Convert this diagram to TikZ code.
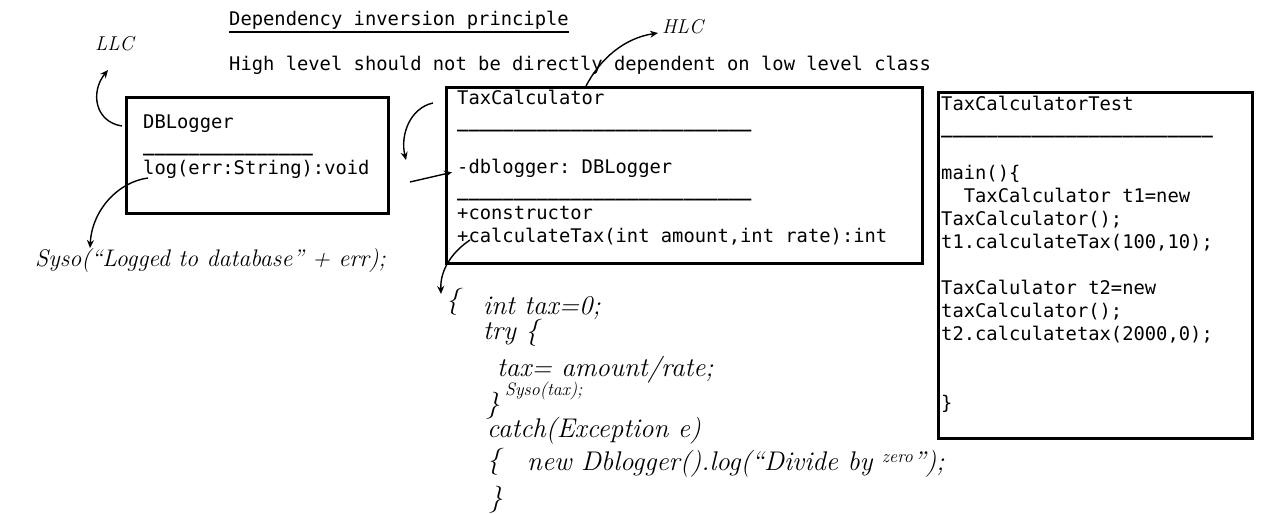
\documentclass[tikz,border=0pt]{standalone}
\usepackage{fontspec}
\setmonofont{DejaVu Sans Mono}
\usetikzlibrary{arrows.meta}
\ExplSyntaxOn
\NewDocumentCommand\sepline{m}{{\bfseries\prg_replicate:nn{#1}{\textunderscore}}}
\ExplSyntaxOff
\begin{document}
\begin{tikzpicture}[x=1pt,y=-1pt,
  umlbox/.style={draw, line width=2.6pt, inner sep=0pt, anchor=north west},
  % multi-line texts are placed by the baseline of their last line
  typed/.style={font=\ttfamily\fontsize{18.8}{23}\selectfont, inner sep=0pt, anchor=base west, align=left},
  hand/.style={font=\itshape\fontsize{24}{28}\selectfont, inner sep=0pt, anchor=base west},
  code/.style={hand, font=\itshape\fontsize{27}{30}\selectfont},
  pen/.style={line width=1.4pt, -{Stealth[length=8pt,width=7pt]}}]
\useasboundingbox (0,0) rectangle (1280,514);

% headings
\node[typed] (title) at (229,25) {Dependency inversion principle};
\draw[line width=1.5pt] ([yshift=-7pt]title.base west) -- ([yshift=-7pt]title.base east);
\node[typed] (rule) at (229,70) {High level should not be directly dependent on low level class};

% class boxes
\node[umlbox, minimum width=262pt, minimum height=116pt] (dbl) at (125,96) {};
\node[typed] (dbltxt) at (143,174) {DBLogger\\\sepline{15}\\log(err:String):void};

\node[umlbox, minimum width=476pt, minimum height=176pt] (tc) at (445,86) {};
\node[typed] (tctxt) at (457,242) {TaxCalculator\\\sepline{26}\\\strut\\-dblogger: DBLogger\\\sepline{26}\\+constructor\\+calculateTax(int amount,int rate):int};

\node[umlbox, minimum width=314pt, minimum height=346pt] (tt) at (937,91) {};
\node[typed] (tttxt) at (941,409) {TaxCalculatorTest\\\sepline{24}\\\strut\\main()\{\\\ \ TaxCalculator t1=new\\TaxCalculator();\\t1.calculateTax(100,10);\\\strut\\TaxCalulator t2=new\\taxCalculator();\\t2.calculatetax(2000,0);\\\strut\\\strut\\\}};

% pen notes
\node[hand, font=\itshape\fontsize{20}{24}\selectfont] (llc) at (95,50) {LLC};
\node[hand, font=\itshape\fontsize{20}{24}\selectfont] (hlc) at (662,33) {HLC};
\node[hand] (syso) at (35,266) {Syso(“Logged to database” + err);};

\node[code] (brace0) at (446,308) {\{};
\node[code] (l1) at (483,314) {int tax=0;};
\node[code] (l2) at (483,339) {try \{};
\node[code] (l3) at (497,376) {tax= amount/rate;};
\node[code] (l4) at (486,412) {\}};
\node[hand, font=\itshape\fontsize{18}{20}\selectfont] (l4b) at (505,395) {Syso(tax);};
\node[code] (l5) at (487,437) {catch(Exception e)};
\node[code] (l6) at (487,468) {\{};
\node[code] (l6b) at (527,470) {new Dblogger().log(“Divide by \raisebox{8pt}{\fontsize{18}{20}\selectfont zero}”);};
\node[code] (l7) at (489,506) {\}};

% connectors
\coordinate (llcfoot) at (122,126);
\coordinate (llctip) at (108,70);
\draw[pen] (llcfoot) .. controls (95,122) and (90,92) .. (llctip);

\coordinate (hlcfoot) at (585,88);
\coordinate (hlctip) at (658,33);
\draw[pen] (hlcfoot) .. controls (600,58) and (625,38) .. (hlctip);

\coordinate (logfoot) at (148,178);
\coordinate (logtip) at (90,248);
\draw[pen] (logfoot) .. controls (118,182) and (92,210) .. (logtip);

\coordinate (tcfoot) at (433,103);
\coordinate (tctip) at (406,160);
\draw[pen] (tcfoot) .. controls (410,108) and (400,135) .. (tctip);

\coordinate (assoc) at (410,182);
\draw[pen] (assoc) -- ([xshift=7pt,yshift=3pt]tc.west);

\coordinate (calcfoot) at (470,240);
\coordinate (calctip) at (441,294);
\draw[pen] (calcfoot) .. controls (452,252) and (440,270) .. (calctip);
\end{tikzpicture}
\end{document}
